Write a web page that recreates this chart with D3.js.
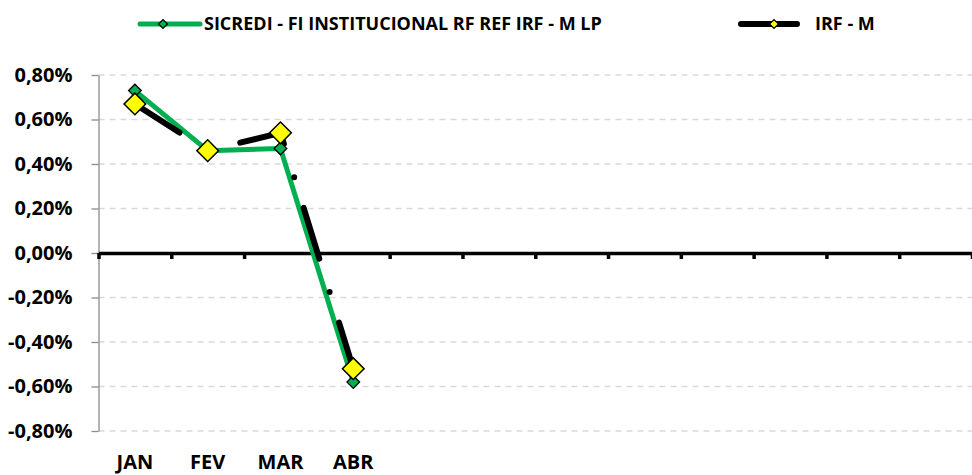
<!DOCTYPE html>
<html>
<head>
<meta charset="utf-8">
<script src="https://cdn.jsdelivr.net/npm/d3@7"></script>
<style>
  body { margin: 0; background: #ffffff; }
  text { font-family: "Open Sans", sans-serif; font-weight: bold; fill: #000000; }
</style>
</head>
<body>
<svg id="chart" width="972" height="475"></svg>
<script>
"use strict";

// categorias (só os 4 primeiros meses têm rótulo)
var monthLabels = ["JAN", "FEV", "MAR", "ABR", "", "", "", "", "", "", "", ""];
// rentabilidade mensal (%)
var sicrediValues = [0.73, 0.46, 0.47, -0.58];
var irfmValues = [0.67, 0.46, 0.54, -0.52];
var yTickValues = [-0.8, -0.6, -0.4, -0.2, 0, 0.2, 0.4, 0.6, 0.8];
var seriesNames = ["SICREDI - FI INSTITUCIONAL RF REF IRF - M LP", "IRF - M"];

var svg = d3.select("#chart");

var plotLeft = 98.5, plotRight = 972, plotTop = 75, plotBottom = 431;

var x = d3.scaleBand()
  .domain(d3.range(monthLabels.length))
  .range([plotLeft, plotRight]);

// bordas das categorias para as marcas do eixo
var xEdge = d3.scaleLinear()
  .domain([0, monthLabels.length])
  .range([plotLeft, plotRight]);

var y = d3.scaleLinear()
  .domain([-0.8, 0.8])
  .range([plotBottom, plotTop]);

function fmt(v) {
  return d3.format(".2f")(v).replace(".", ",").replace("−", "-") + "%";
}

// grade
svg.append("g")
  .selectAll("line")
  .data(yTickValues.filter(function(d){ return d != 0; }))
  .enter()
  .append("line")
  .attr("x1", plotLeft)
  .attr("x2", plotRight)
  .attr("y1", function(d){ return y(d); })
  .attr("y2", function(d){ return y(d); })
  .attr("stroke", "#d9d9d9")
  .attr("stroke-width", 1.3)
  .attr("stroke-dasharray", "6,5");

// eixo y
var yAxis = svg.append("g")
  .attr("transform", "translate(" + plotLeft + ",0)")
  .call(d3.axisLeft(y).tickValues(yTickValues).tickFormat(fmt).tickSize(7).tickSizeOuter(0).tickPadding(19));
yAxis.select(".domain").attr("stroke", "#8c8c8c").attr("stroke-width", 1.3);
yAxis.selectAll(".tick line").attr("stroke", "#8c8c8c").attr("stroke-width", 1.3);
yAxis.selectAll(".tick text")
  .style("font-family", "Open Sans")
  .style("font-weight", "bold")
  .style("font-size", "20px")
  .attr("fill", "#000000");

// linha do zero com marcas das categorias
var zeroAxis = svg.append("g")
  .attr("transform", "translate(0," + y(0) + ")")
  .call(d3.axisBottom(xEdge).tickValues(d3.range(monthLabels.length + 1)).tickFormat("").tickSize(6).tickSizeOuter(0));
zeroAxis.select(".domain").attr("stroke", "#000000").attr("stroke-width", 3.5);
zeroAxis.selectAll(".tick line").attr("stroke", "#000000").attr("stroke-width", 3.5);

// rótulos dos meses
svg.append("g")
  .selectAll("text")
  .data(monthLabels)
  .enter()
  .append("text")
  .attr("x", function(d, i){ return x(i) + x.bandwidth() / 2; })
  .attr("y", 469)
  .attr("text-anchor", "middle")
  .style("font-size", "20px")
  .text(function(d){ return d; });

var line = d3.line()
  .x(function(d, i){ return x(i) + x.bandwidth() / 2; })
  .y(function(d){ return y(d); });

svg.append("path")
  .datum(sicrediValues)
  .attr("d", line)
  .attr("fill", "none")
  .attr("stroke", "#00b050")
  .attr("stroke-width", 5)
  .attr("stroke-linejoin", "round");

svg.append("path")
  .datum(irfmValues)
  .attr("d", line)
  .attr("fill", "none")
  .attr("stroke", "#000000")
  .attr("stroke-width", 6)
  .attr("stroke-linecap", "round")
  .attr("stroke-dasharray", "53,35,0,32");

var smallDiamond = d3.symbol().type(d3.symbolSquare).size(80);
var bigDiamond = d3.symbol().type(d3.symbolSquare).size(235);

svg.append("g")
  .selectAll("path")
  .data(sicrediValues)
  .enter()
  .append("path")
  .attr("d", smallDiamond)
  .attr("transform", function(d, i){ return "translate(" + (x(i) + x.bandwidth() / 2) + "," + y(d) + ") rotate(45)"; })
  .attr("fill", "#00b050")
  .attr("stroke", "#000000")
  .attr("stroke-width", 1.3);

svg.append("g")
  .selectAll("path")
  .data(irfmValues)
  .enter()
  .append("path")
  .attr("d", bigDiamond)
  .attr("transform", function(d, i){ return "translate(" + (x(i) + x.bandwidth() / 2) + "," + y(d) + ") rotate(45)"; })
  .attr("fill", "#ffff00")
  .attr("stroke", "#000000")
  .attr("stroke-width", 1.5);

// legenda
var legend = svg.append("g").attr("class", "legend");
var legendItems = [
  { x1: 140, x2: 200, mx: 163, tx: 204, color: "#00b050", width: 5, mfill: "#00b050" },
  { x1: 741, x2: 797, mx: 774, tx: 815, color: "#000000", width: 6, mfill: "#ffff00" }
];
var legendMarker = d3.symbol().type(d3.symbolSquare).size(40);

legendItems.forEach(function(it, i) {
  legend.append("line")
    .attr("x1", it.x1).attr("x2", it.x2)
    .attr("y1", 24).attr("y2", 24)
    .attr("stroke", it.color)
    .attr("stroke-width", it.width)
    .attr("stroke-linecap", "round");
  legend.append("path")
    .attr("d", legendMarker)
    .attr("transform", "translate(" + it.mx + ",24) rotate(45)")
    .attr("fill", it.mfill)
    .attr("stroke", "#000000")
    .attr("stroke-width", 1.2);
  legend.append("text")
    .attr("x", it.tx)
    .attr("y", 30)
    .style("font-size", "18px")
    .text(seriesNames[i]);
});
</script>
</body>
</html>
